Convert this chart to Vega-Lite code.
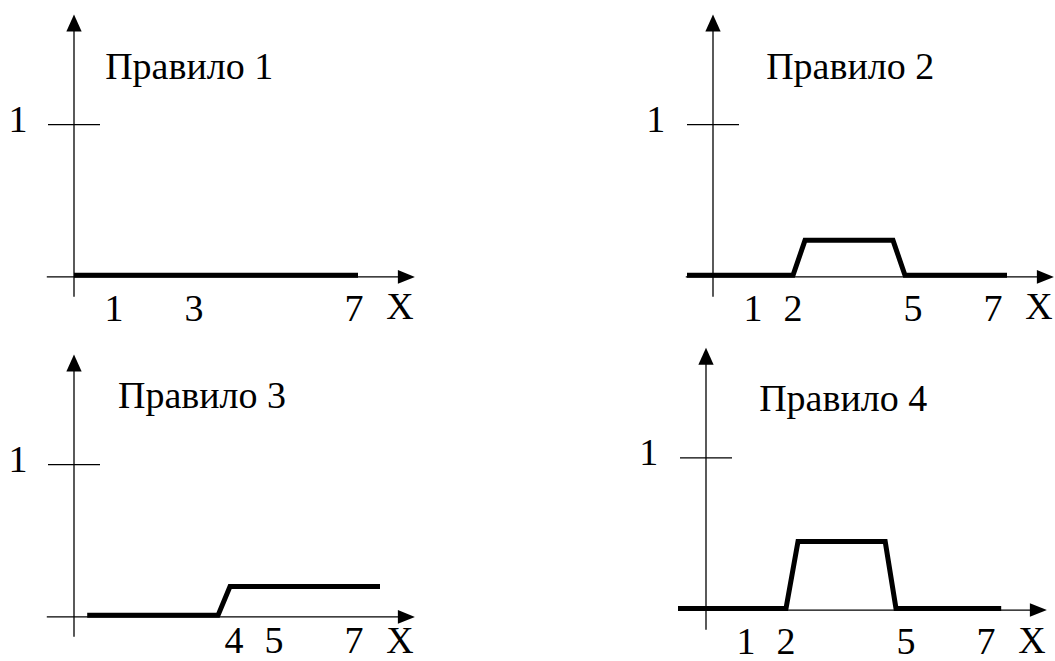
{
  "$schema": "https://vega.github.io/schema/vega-lite/v6.json",
  "background": "white",
  "padding": {"left": 6, "top": 3, "right": 0, "bottom": 0},
  "data": {
    "values": [
      {"p": 1, "k": "rule", "x": 0, "x2": 0, "y": -0.13, "y2": 1.62},
      {"p": 1, "k": "rule", "x": -0.68, "x2": 8.2, "y": 0, "y2": 0},
      {"p": 1, "k": "rule", "x": -0.65, "x2": 0.65, "y": 1, "y2": 1},
      {"p": 1, "k": "up", "x": 0, "y": 1.668},
      {"p": 1, "k": "right", "x": 8.31, "y": 0},
      {"p": 1, "k": "text", "x": -1.4, "y": 0.955, "t": "1"},
      {"p": 1, "k": "text", "x": 1, "y": -0.29, "t": "1"},
      {"p": 1, "k": "text", "x": 3, "y": -0.29, "t": "3"},
      {"p": 1, "k": "text", "x": 7, "y": -0.29, "t": "7"},
      {"p": 1, "k": "text", "x": 8.15, "y": -0.28, "t": "X"},
      {"p": 1, "k": "text", "x": 2.88, "y": 1.3, "t": "Правило 1"},
      {"p": 1, "k": "mf", "i": 0, "x": 0, "y": 0.01},
      {"p": 1, "k": "mf", "i": 1, "x": 7.1, "y": 0.01},

      {"p": 2, "k": "rule", "x": 0, "x2": 0, "y": -0.13, "y2": 1.62},
      {"p": 2, "k": "rule", "x": -0.68, "x2": 8.2, "y": 0, "y2": 0},
      {"p": 2, "k": "rule", "x": -0.65, "x2": 0.65, "y": 1, "y2": 1},
      {"p": 2, "k": "up", "x": 0, "y": 1.668},
      {"p": 2, "k": "right", "x": 8.31, "y": 0},
      {"p": 2, "k": "text", "x": -1.43, "y": 0.955, "t": "1"},
      {"p": 2, "k": "text", "x": 1, "y": -0.29, "t": "1"},
      {"p": 2, "k": "text", "x": 2, "y": -0.29, "t": "2"},
      {"p": 2, "k": "text", "x": 5, "y": -0.29, "t": "5"},
      {"p": 2, "k": "text", "x": 7, "y": -0.29, "t": "7"},
      {"p": 2, "k": "text", "x": 8.15, "y": -0.28, "t": "X"},
      {"p": 2, "k": "text", "x": 3.43, "y": 1.3, "t": "Правило 2"},
      {"p": 2, "k": "mf", "i": 0, "x": -0.65, "y": 0.01},
      {"p": 2, "k": "mf", "i": 1, "x": 2, "y": 0.01},
      {"p": 2, "k": "mf", "i": 2, "x": 2.3, "y": 0.24},
      {"p": 2, "k": "mf", "i": 3, "x": 4.5, "y": 0.24},
      {"p": 2, "k": "mf", "i": 4, "x": 4.8, "y": 0.01},
      {"p": 2, "k": "mf", "i": 5, "x": 7.35, "y": 0.01},

      {"p": 3, "k": "rule", "x": 0, "x2": 0, "y": -0.13, "y2": 1.62},
      {"p": 3, "k": "rule", "x": -0.68, "x2": 8.2, "y": 0, "y2": 0},
      {"p": 3, "k": "rule", "x": -0.65, "x2": 0.65, "y": 1, "y2": 1},
      {"p": 3, "k": "up", "x": 0, "y": 1.668},
      {"p": 3, "k": "right", "x": 8.31, "y": 0},
      {"p": 3, "k": "text", "x": -1.4, "y": 0.955, "t": "1"},
      {"p": 3, "k": "text", "x": 4, "y": -0.24, "t": "4"},
      {"p": 3, "k": "text", "x": 5, "y": -0.24, "t": "5"},
      {"p": 3, "k": "text", "x": 7, "y": -0.24, "t": "7"},
      {"p": 3, "k": "text", "x": 8.15, "y": -0.24, "t": "X"},
      {"p": 3, "k": "text", "x": 3.2, "y": 1.375, "t": "Правило 3"},
      {"p": 3, "k": "mf", "i": 0, "x": 0.33, "y": 0.01},
      {"p": 3, "k": "mf", "i": 1, "x": 3.6, "y": 0.01},
      {"p": 3, "k": "mf", "i": 2, "x": 3.9, "y": 0.2},
      {"p": 3, "k": "mf", "i": 3, "x": 7.65, "y": 0.2},

      {"p": 4, "k": "rule", "x": 0, "x2": 0, "y": -0.13, "y2": 1.62},
      {"p": 4, "k": "rule", "x": -0.68, "x2": 8.2, "y": 0, "y2": 0},
      {"p": 4, "k": "rule", "x": -0.65, "x2": 0.65, "y": 1, "y2": 1},
      {"p": 4, "k": "up", "x": 0, "y": 1.668},
      {"p": 4, "k": "right", "x": 8.31, "y": 0},
      {"p": 4, "k": "text", "x": -1.43, "y": 0.955, "t": "1"},
      {"p": 4, "k": "text", "x": 1, "y": -0.29, "t": "1"},
      {"p": 4, "k": "text", "x": 2, "y": -0.29, "t": "2"},
      {"p": 4, "k": "text", "x": 5, "y": -0.29, "t": "5"},
      {"p": 4, "k": "text", "x": 7, "y": -0.29, "t": "7"},
      {"p": 4, "k": "text", "x": 8.15, "y": -0.28, "t": "X"},
      {"p": 4, "k": "text", "x": 3.43, "y": 1.31, "t": "Правило 4"},
      {"p": 4, "k": "mf", "i": 0, "x": -0.7, "y": 0.01},
      {"p": 4, "k": "mf", "i": 1, "x": 2, "y": 0.01},
      {"p": 4, "k": "mf", "i": 2, "x": 2.3, "y": 0.45},
      {"p": 4, "k": "mf", "i": 3, "x": 4.48, "y": 0.45},
      {"p": 4, "k": "mf", "i": 4, "x": 4.75, "y": 0.01},
      {"p": 4, "k": "mf", "i": 5, "x": 7.38, "y": 0.01}
    ]
  },
  "columns": 2,
  "spacing": {"column": 227, "row": 22},
  "bounds": "flush",
  "concat": [
    {
      "transform": [{"filter": "datum.p === 1"}],
      "width": 412,
      "height": 318,
      "encoding": {
        "x": {"field": "x", "type": "quantitative", "scale": {"domain": [-1.7, 8.6], "nice": false, "zero": false}, "axis": null},
        "y": {"field": "y", "type": "quantitative", "scale": {"domain": [-0.29, 1.8], "nice": false, "zero": false}, "axis": null}
      },
      "layer": [
        {"transform": [{"filter": "datum.k === 'rule'"}], "mark": {"type": "rule", "color": "black", "strokeWidth": 1.3}, "encoding": {"x2": {"field": "x2"}, "y2": {"field": "y2"}}},
        {"transform": [{"filter": "datum.k === 'up'"}], "mark": {"type": "point", "shape": "M0,-1L-0.9,1L0.9,1Z", "filled": true, "size": 289, "color": "black", "opacity": 1, "strokeWidth": 0}},
        {"transform": [{"filter": "datum.k === 'right'"}], "mark": {"type": "point", "shape": "M1,0L-1,-0.8L-1,0.8Z", "filled": true, "size": 289, "color": "black", "opacity": 1, "strokeWidth": 0}},
        {"transform": [{"filter": "datum.k === 'mf'"}], "mark": {"type": "line", "color": "black", "strokeWidth": 5, "strokeCap": "butt", "strokeJoin": "miter"}, "encoding": {"order": {"field": "i", "type": "quantitative"}}},
        {"transform": [{"filter": "datum.k === 'text'"}], "mark": {"type": "text", "font": "Liberation Serif", "fontSize": 38, "align": "center", "baseline": "alphabetic", "color": "black"}, "encoding": {"text": {"field": "t"}}}
      ]
    },
    {
      "transform": [{"filter": "datum.p === 2"}],
      "width": 412,
      "height": 318,
      "encoding": {
        "x": {"field": "x", "type": "quantitative", "scale": {"domain": [-1.7, 8.6], "nice": false, "zero": false}, "axis": null},
        "y": {"field": "y", "type": "quantitative", "scale": {"domain": [-0.29, 1.8], "nice": false, "zero": false}, "axis": null}
      },
      "layer": [
        {"transform": [{"filter": "datum.k === 'rule'"}], "mark": {"type": "rule", "color": "black", "strokeWidth": 1.3}, "encoding": {"x2": {"field": "x2"}, "y2": {"field": "y2"}}},
        {"transform": [{"filter": "datum.k === 'up'"}], "mark": {"type": "point", "shape": "M0,-1L-0.9,1L0.9,1Z", "filled": true, "size": 289, "color": "black", "opacity": 1, "strokeWidth": 0}},
        {"transform": [{"filter": "datum.k === 'right'"}], "mark": {"type": "point", "shape": "M1,0L-1,-0.8L-1,0.8Z", "filled": true, "size": 289, "color": "black", "opacity": 1, "strokeWidth": 0}},
        {"transform": [{"filter": "datum.k === 'mf'"}], "mark": {"type": "line", "color": "black", "strokeWidth": 5, "strokeCap": "butt", "strokeJoin": "miter"}, "encoding": {"order": {"field": "i", "type": "quantitative"}}},
        {"transform": [{"filter": "datum.k === 'text'"}], "mark": {"type": "text", "font": "Liberation Serif", "fontSize": 38, "align": "center", "baseline": "alphabetic", "color": "black"}, "encoding": {"text": {"field": "t"}}}
      ]
    },
    {
      "transform": [{"filter": "datum.p === 3"}],
      "width": 412,
      "height": 318,
      "encoding": {
        "x": {"field": "x", "type": "quantitative", "scale": {"domain": [-1.7, 8.6], "nice": false, "zero": false}, "axis": null},
        "y": {"field": "y", "type": "quantitative", "scale": {"domain": [-0.29, 1.8], "nice": false, "zero": false}, "axis": null}
      },
      "layer": [
        {"transform": [{"filter": "datum.k === 'rule'"}], "mark": {"type": "rule", "color": "black", "strokeWidth": 1.3}, "encoding": {"x2": {"field": "x2"}, "y2": {"field": "y2"}}},
        {"transform": [{"filter": "datum.k === 'up'"}], "mark": {"type": "point", "shape": "M0,-1L-0.9,1L0.9,1Z", "filled": true, "size": 289, "color": "black", "opacity": 1, "strokeWidth": 0}},
        {"transform": [{"filter": "datum.k === 'right'"}], "mark": {"type": "point", "shape": "M1,0L-1,-0.8L-1,0.8Z", "filled": true, "size": 289, "color": "black", "opacity": 1, "strokeWidth": 0}},
        {"transform": [{"filter": "datum.k === 'mf'"}], "mark": {"type": "line", "color": "black", "strokeWidth": 5, "strokeCap": "butt", "strokeJoin": "miter"}, "encoding": {"order": {"field": "i", "type": "quantitative"}}},
        {"transform": [{"filter": "datum.k === 'text'"}], "mark": {"type": "text", "font": "Liberation Serif", "fontSize": 38, "align": "center", "baseline": "alphabetic", "color": "black"}, "encoding": {"text": {"field": "t"}}}
      ]
    },
    {
      "transform": [{"filter": "datum.p === 4"}],
      "width": 412,
      "height": 318,
      "encoding": {
        "x": {"field": "x", "type": "quantitative", "scale": {"domain": [-1.525, 8.775], "nice": false, "zero": false}, "axis": null},
        "y": {"field": "y", "type": "quantitative", "scale": {"domain": [-0.335, 1.755], "nice": false, "zero": false}, "axis": null}
      },
      "layer": [
        {"transform": [{"filter": "datum.k === 'rule'"}], "mark": {"type": "rule", "color": "black", "strokeWidth": 1.3}, "encoding": {"x2": {"field": "x2"}, "y2": {"field": "y2"}}},
        {"transform": [{"filter": "datum.k === 'up'"}], "mark": {"type": "point", "shape": "M0,-1L-0.9,1L0.9,1Z", "filled": true, "size": 289, "color": "black", "opacity": 1, "strokeWidth": 0}},
        {"transform": [{"filter": "datum.k === 'right'"}], "mark": {"type": "point", "shape": "M1,0L-1,-0.8L-1,0.8Z", "filled": true, "size": 289, "color": "black", "opacity": 1, "strokeWidth": 0}},
        {"transform": [{"filter": "datum.k === 'mf'"}], "mark": {"type": "line", "color": "black", "strokeWidth": 5, "strokeCap": "butt", "strokeJoin": "miter"}, "encoding": {"order": {"field": "i", "type": "quantitative"}}},
        {"transform": [{"filter": "datum.k === 'text'"}], "mark": {"type": "text", "font": "Liberation Serif", "fontSize": 38, "align": "center", "baseline": "alphabetic", "color": "black"}, "encoding": {"text": {"field": "t"}}}
      ]
    }
  ],
  "config": {"view": {"stroke": null}}
}
